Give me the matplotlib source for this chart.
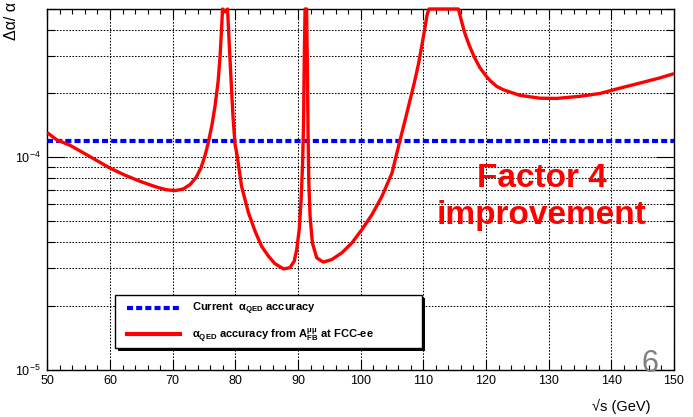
import matplotlib
matplotlib.use("Agg")
import matplotlib.pyplot as plt
from matplotlib.lines import Line2D
from matplotlib.patches import Rectangle
from matplotlib.ticker import MultipleLocator, LogLocator, NullFormatter

# ---------------- data ----------------
energy = [50, 51.5, 53.62, 56.81, 60.0, 62.4, 64.8, 67.2, 68.94, 70.38, 71.66,
          72.77, 73.73, 74.53, 75.17, 75.65, 76.29, 76.77, 77.25, 77.56, 77.8,
          77.96, 78.36, 78.76, 79.0, 79.32, 79.64, 79.96, 80.27, 81.0, 82.1,
          83.15, 84.2, 85.3, 86.3, 87.7, 88.7, 89.4, 89.8, 90.2, 90.5, 90.73,
          90.9, 91.0, 91.13, 91.37, 91.5, 91.6, 91.73, 91.93, 92.3, 93.0,
          94.05, 95.4, 97.0, 98.6, 100.2, 101.8, 103.4, 105.0, 106.3, 107.1,
          107.9, 108.6, 109.2, 109.7, 110.2, 110.6, 110.9, 113.2, 115.6, 116.0,
          116.6, 117.3, 118.1, 119.05, 120.0, 120.65, 121.7, 122.8, 125.4,
          128.6, 131.3, 135.0, 138.2, 141.4, 144.6, 147.8, 150]
accuracy = [1.307e-4, 1.21e-4, 1.14e-4, 1.008e-4, 8.9e-5, 8.24e-5, 7.71e-5,
            7.28e-5, 7.04e-5, 6.97e-5, 7.09e-5, 7.44e-5, 8.03e-5, 8.94e-5,
            1.02e-4, 1.16e-4, 1.43e-4, 1.75e-4, 2.27e-4, 2.97e-4, 3.98e-4,
            5.0e-4, 4.85e-4, 5.0e-4, 3.57e-4, 2.32e-4, 1.54e-4, 1.15e-4,
            1.03e-4, 7.3e-5, 5.48e-5, 4.49e-5, 3.81e-5, 3.42e-5, 3.16e-5,
            2.98e-5, 3.02e-5, 3.24e-5, 3.68e-5, 4.57e-5, 6.3e-5, 9.24e-5,
            1.5e-4, 2.88e-4, 5.0e-4, 5.0e-4, 2.67e-4, 1.35e-4, 7.6e-5, 5.28e-5,
            3.95e-5, 3.36e-5, 3.21e-5, 3.3e-5, 3.55e-5, 3.95e-5, 4.57e-5,
            5.37e-5, 6.55e-5, 8.44e-5, 1.21e-4, 1.50e-4, 1.87e-4, 2.27e-4,
            2.73e-4, 3.28e-4, 3.99e-4, 4.69e-4, 5.0e-4, 5.0e-4, 5.0e-4,
            4.49e-4, 3.86e-4, 3.39e-4, 2.98e-4, 2.64e-4, 2.42e-4, 2.30e-4,
            2.16e-4, 2.08e-4, 1.96e-4, 1.90e-4, 1.895e-4, 1.94e-4, 2.0e-4,
            2.12e-4, 2.24e-4, 2.37e-4, 2.48e-4]
current_accuracy = 1.2e-4

x_range = (50, 150)
y_range = (1e-5, 5e-4)

label_current = r"Current  α$_{\mathbf{QED}}$ accuracy"
label_fcc = r"α$_{\mathbf{QED}}$ accuracy from $\mathbf{A}^{\mathbf{μμ}}_{\mathbf{FB}}$ at FCC-ee"
x_title = "√s (GeV)"
y_title = "Δα/ α"
note_lines = ["Factor 4", "improvement"]
page_number = "6"

# ---------------- style ----------------
plt.rcParams['font.family'] = ['Liberation Sans', 'DejaVu Sans']
plt.rcParams['mathtext.fontset'] = 'custom'
plt.rcParams['mathtext.rm'] = 'Liberation Sans'
plt.rcParams['mathtext.bf'] = 'Liberation Sans:bold'
plt.rcParams['mathtext.it'] = 'Liberation Sans:italic'
plt.rcParams['mathtext.sf'] = 'Liberation Sans'

W, H = 693, 417
fig = plt.figure(figsize=(W / 100, H / 100), dpi=100)

def fx(px):
    return px / W

def fy(py):
    return 1 - py / H

left, right, top, bottom = 47.3, 674.0, 9.0, 369.6
ax = fig.add_axes([fx(left), fy(bottom), (right - left) / W, (bottom - top) / H])
ax.set_xlim(*x_range)
ax.set_yscale('log')
ax.set_ylim(*y_range)

ax.xaxis.set_major_locator(MultipleLocator(10))
ax.xaxis.set_minor_locator(MultipleLocator(2))
ax.yaxis.set_major_locator(LogLocator(base=10))
ax.yaxis.set_minor_locator(LogLocator(base=10, subs=range(2, 10)))
ax.yaxis.set_minor_formatter(NullFormatter())

grid_kw = dict(color='black', linewidth=0.75, linestyle=(0, (1.5, 1.5)))
ax.grid(True, which='major', axis='x', **grid_kw)
ax.grid(True, which='both', axis='y', **grid_kw)
ax.set_axisbelow(True)

ax.tick_params(which='both', direction='in', top=True, right=True,
               color='black', width=0.8, labelsize=9)
ax.tick_params(axis='x', which='major', length=7, pad=4)
ax.tick_params(axis='x', which='minor', length=3.6)
ax.tick_params(axis='y', which='major', length=13, pad=5)
ax.tick_params(axis='y', which='minor', length=5.8)
for s in ax.spines.values():
    s.set_linewidth(1.0)
    s.set_color('black')

blue_kw = dict(color='#0000ff', linewidth=3, linestyle=(0, (1.45, 0.75)))
red_kw = dict(color='#ff0000', linewidth=2.4, solid_joinstyle='round',
              solid_capstyle='butt')

ax.axhline(current_accuracy, zorder=3, **blue_kw)
ax.plot(energy, accuracy, clip_on=False, zorder=4, **red_kw)

# ---------------- legend (ROOT-style box with shadow) ----------------
bx0, by0, bx1, by1 = 115, 295, 422, 348
shadow = Rectangle((fx(bx0 + 3), fy(by1 + 3)), (bx1 - bx0) / W, (by1 - by0) / H,
                   transform=fig.transFigure, facecolor='black', edgecolor='black',
                   linewidth=0, zorder=5)
box = Rectangle((fx(bx0), fy(by1)), (bx1 - bx0) / W, (by1 - by0) / H,
                transform=fig.transFigure, facecolor='white', edgecolor='black',
                linewidth=1.0, zorder=6)
fig.add_artist(shadow)
fig.add_artist(box)
fig.add_artist(Line2D([fx(127), fx(180)], [fy(308), fy(308)],
                      transform=fig.transFigure, zorder=7, **blue_kw))
fig.add_artist(Line2D([fx(127), fx(180)], [fy(334), fy(334)],
                      transform=fig.transFigure, zorder=7,
                      color='#ff0000', linewidth=3))
fig.text(fx(192), fy(311), label_current, fontsize=8, fontweight='bold',
         va='baseline', ha='left', zorder=8)
fig.text(fx(192), fy(338.5), label_fcc, fontsize=8, fontweight='bold',
         va='baseline', ha='left', zorder=8)

# ---------------- titles and annotations ----------------
fig.text(fx(650), fy(414), x_title, fontsize=10.5, ha='right', va='bottom')
fig.text(fx(11), fy(2), y_title, fontsize=11.5, rotation=90, ha='center', va='top')
fig.text(fx(542), fy(187), note_lines[0], fontsize=24, fontweight='bold',
         color='#ff0000', ha='center', va='baseline')
fig.text(fx(542), fy(224), note_lines[1], fontsize=24, fontweight='bold',
         color='#ff0000', ha='center', va='baseline')
fig.text(fx(650), fy(372), page_number, fontsize=22, color='#7f7f7f',
         ha='center', va='baseline')

fig.savefig("out.png", dpi=100)
